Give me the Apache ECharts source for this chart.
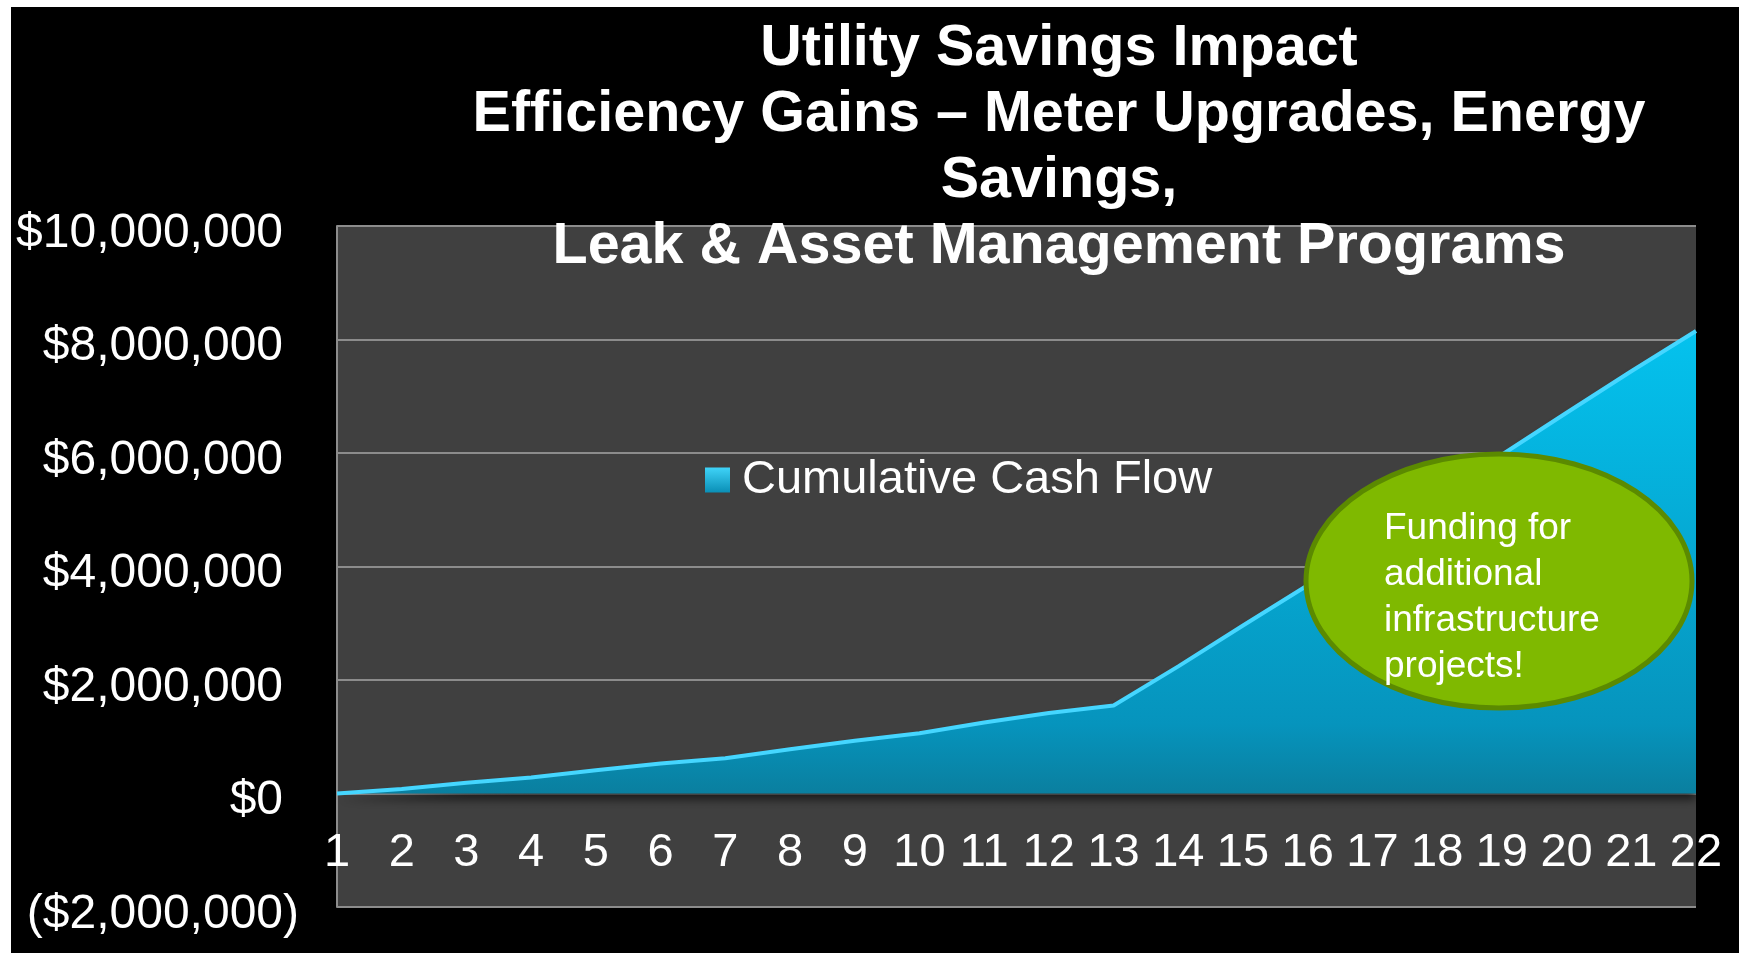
<!DOCTYPE html>
<html>
<head>
<meta charset="utf-8">
<script src="https://cdn.jsdelivr.net/npm/echarts@6/dist/echarts.min.js"></script>
<style>
  html, body { margin: 0; padding: 0; background: #ffffff; }
  #chart { width: 1739px; height: 953px; }
</style>
</head>
<body>
<div id="chart"></div>
<script>
// ---- data ----
const years = ['1','2','3','4','5','6','7','8','9','10','11','12','13','14','15','16','17','18','19','20','21','22'];
const cumulativeCashFlow = [0, 80000, 190000, 280000, 410000, 530000, 620000, 780000, 930000, 1060000, 1250000, 1420000, 1550000, 2240000, 2960000, 3670000, 4440000, 5200000, 5970000, 6710000, 7440000, 8150000];
const seriesName = 'Cumulative Cash Flow';
const titleLines = ['Utility Savings Impact', 'Efficiency Gains \u2013 Meter Upgrades, Energy', 'Savings,', 'Leak & Asset Management Programs'];
const noteLines = ['Funding for', 'additional', 'infrastructure', 'projects!'];
const yMin = -2000000, yMax = 10000000, yStep = 2000000;

const FONT = '"Liberation Sans", Arial, Helvetica, sans-serif';
const GRID = { left: 337, right: 43, top: 226, bottom: 46 };
const gridHeight = 953 - GRID.top - GRID.bottom;
// distance (px) from the plot bottom up to the value 0
const zeroOffset = gridHeight * (0 - yMin) / (yMax - yMin);

function money(v) {
  const s = '$' + Math.abs(v).toLocaleString('en-US');
  return v < 0 ? '{n|(' + s + ')}' : '{n|' + s + '}{h|)}';
}

const chart = echarts.init(document.getElementById('chart'), null, { renderer: 'canvas' });
chart.setOption({
  backgroundColor: '#000000',
  animation: false,
  title: {
    text: titleLines.join('\n'),
    left: 1054,
    top: 11,
    textAlign: 'center',
    textStyle: {
      color: '#ffffff',
      fontFamily: FONT,
      fontWeight: 'bold',
      fontSize: 57.5,
      lineHeight: 66
    },
    z: 20
  },
  legend: {
    data: [{ name: seriesName, itemStyle: { color: new echarts.graphic.LinearGradient(0, 0, 0, 1, [
      { offset: 0, color: '#3fd3f8' }, { offset: 1, color: '#0a8fb6' }]) } }],
    icon: 'rect',
    left: 700,
    top: 449,
    itemWidth: 25,
    itemHeight: 25,
    textStyle: { color: '#ffffff', fontFamily: FONT, fontSize: 47, lineHeight: 52, padding: [0, 0, 0, 7] }
  },
  grid: {
    left: GRID.left, right: GRID.right, top: GRID.top, bottom: GRID.bottom,
    outerBoundsMode: 'none',
    containLabel: false,
    show: true, backgroundColor: '#404040', borderWidth: 0
  },
  xAxis: {
    type: 'category',
    data: years,
    boundaryGap: false,
    position: 'bottom',
    offset: -zeroOffset,
    axisLine: { show: false, onZero: false },
    axisTick: { show: false },
    axisLabel: { color: '#ffffff', fontFamily: FONT, fontSize: 47, margin: 36, interval: 0 },
    splitLine: { show: false }
  },
  yAxis: {
    type: 'value',
    min: yMin, max: yMax, interval: yStep,
    axisLine: { show: true, lineStyle: { color: '#8c8c8c', width: 2 } },
    axisTick: { show: false },
    splitLine: { show: true, lineStyle: { color: '#8c8c8c', width: 2 } },
    axisLabel: {
      margin: 38,
      formatter: money,
      rich: {
        n: { color: '#ffffff', fontFamily: FONT, fontSize: 48, padding: [15, 0, 0, 0] },
        h: { color: 'rgba(0,0,0,0)', fontFamily: FONT, fontSize: 48, padding: [15, 0, 0, 0] }
      }
    }
  },
  series: [{
    name: seriesName,
    type: 'line',
    data: cumulativeCashFlow,
    showSymbol: false,
    symbol: 'none',
    lineStyle: { color: '#45d6ff', width: 4 },
    itemStyle: { color: '#0aa8d6' },
    areaStyle: {
      color: new echarts.graphic.LinearGradient(0, 0, 0, 1, [
        { offset: 0, color: '#04c2ee' },
        { offset: 0.85, color: '#0694bd' },
        { offset: 1, color: '#0a7f9f' }
      ]),
      opacity: 1,
      shadowColor: 'rgba(0,0,0,0.6)',
      shadowBlur: 10,
      shadowOffsetY: 6
    },
    z: 3
  }],
  graphic: [
    {
      type: 'ellipse', z: 100,
      shape: { cx: 1499, cy: 581, rx: 193, ry: 127 },
      style: { fill: '#7fb900', stroke: '#5b8a00', lineWidth: 5 }
    },
    {
      type: 'text', z: 101,
      x: 1384, y: 598,
      style: {
        text: noteLines.join('\n'),
        fill: '#ffffff',
        font: '37px ' + FONT,
        lineHeight: 46,
        align: 'left',
        verticalAlign: 'middle'
      }
    },
    { type: 'rect', z: 200, shape: { x: 0, y: 0, width: 1739, height: 7 }, style: { fill: '#ffffff' } },
    { type: 'rect', z: 200, shape: { x: 0, y: 0, width: 11, height: 953 }, style: { fill: '#ffffff' } }
  ]
});
</script>
</body>
</html>
